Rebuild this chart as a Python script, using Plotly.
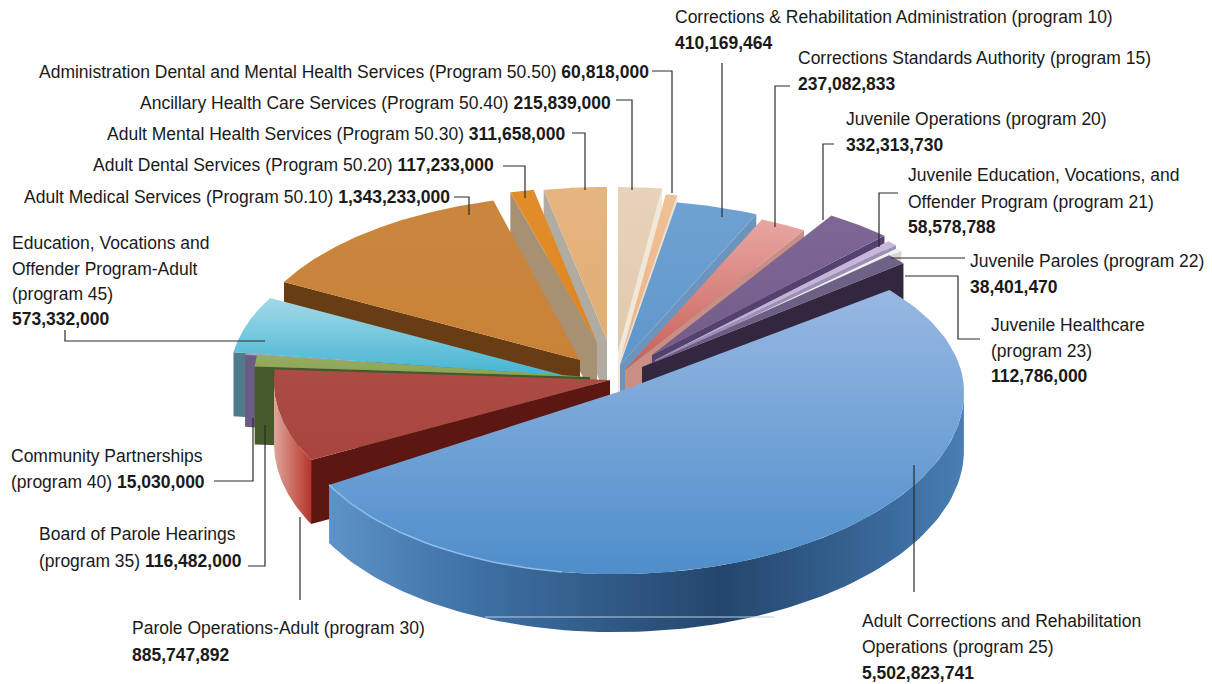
import numpy as np
import plotly.graph_objects as go

# ---------- data ----------
programs = ["50.40", "50.50", "10", "15", "20", "21", "22", "23", "25", "30", "35", "40", "45", "50.10", "50.20", "50.30"]
values = [215839000, 60818000, 410169464, 237082833, 332313730, 58578788, 38401470, 112786000,
          5502823741, 885747892, 116482000, 15030000, 573332000, 1343233000, 117233000, 311658000]

# ---------- styles (top colour, bottom colour) ----------
top_colors = [("#e7d3bb", "#e2c9ab"), ("#efc097", "#ecb589"), ("#6fa2d2", "#5f97cb"), ("#e8a6a3", "#c95f56"),
              ("#7d6794", "#735d8b"), ("#c8b9dc", "#bcaed4"), ("#f2f2f4", "#e6e6ea"), ("#6f6388", "#685a80"),
              ("#98b8e2", "#4e8ecb"), ("#ac4c45", "#a8443d"), ("#97ad62", "#8aa452"), ("#ad9dcb", "#a090c0"),
              ("#a3d9e8", "#45b4d2"), ("#cb863e", "#c98238"), ("#e28d2a", "#dd8524"), ("#e6b47f", "#e2ae76")]
wall_colors = ["#f0e8da", "#e8e0d2", "#6c94bd", "#c98f84", "#54416f", "#9d90b5", "#d5d5d8", "#33263f",
               "#5b8fc5", "#5c1712", "#46592a", "#6b5c85", "#4e7c8c", "#683d14", "#a89072", "#b1aba1"]
centers = [(618, 352), (621, 358), (620, 365), (625, 370), (652, 355), (655, 360), (655, 363), (642, 367),
           (628, 399), (610, 380), (590, 377), (578, 377), (566, 376), (580, 360), (597, 343), (607, 340)]
apex_override = {8: (618, 392)}
tilt = {8: -0.02}
ry_far_override = {14: 156, 15: 153}
height_override = {9: 64, 10: 78, 11: 72, 12: 64}
RX, RY_FAR, RY_NEAR, H = 336, 165, 175, 58
draw_order = [0, 1, 2, 3, 4, 5, 6, 7, 15, 14, 13, 12, 11, 10, 9, 8]
BIG = 8
RED = 9

# ---------- labels ----------
text_lines = [
    ("Corrections & Rehabilitation Administration (program 10)", 675, 17), ("<b>410,169,464</b>", 675, 43),
    ("Corrections Standards Authority (program 15)", 798, 58), ("<b>237,082,833</b>", 798, 84),
    ("Juvenile Operations (program 20)", 846, 119), ("<b>332,313,730</b>", 846, 145),
    ("Juvenile Education, Vocations, and", 908, 175), ("Offender Program (program 21)", 908, 202), ("<b>58,578,788</b>", 908, 227),
    ("Juvenile Paroles (program 22)", 970, 261), ("<b>38,401,470</b>", 970, 287),
    ("Juvenile Healthcare", 991, 325), ("(program 23)", 991, 351), ("<b>112,786,000</b>", 991, 376),
    ("Adult Corrections and Rehabilitation", 862, 621), ("Operations (program 25)", 862, 647), ("<b>5,502,823,741</b>", 862, 673),
    ("Parole Operations-Adult (program 30)", 132, 628), ("<b>885,747,892</b>", 132, 655),
    ("Board of Parole Hearings", 39, 534), ("(program 35) <b>116,482,000</b>", 39, 561),
    ("Community Partnerships", 11, 456), ("(program 40) <b>15,030,000</b>", 11, 482),
    ("Education, Vocations and", 12, 243), ("Offender Program-Adult", 12, 269), ("(program 45)", 12, 294), ("<b>573,332,000</b>", 12, 319),
    ("Adult Medical Services (Program 50.10) <b>1,343,233,000</b>", 24, 197),
    ("Adult Dental Services (Program 50.20) <b>117,233,000</b>", 93, 165),
    ("Adult Mental Health Services (Program 50.30) <b>311,658,000</b>", 107, 134),
    ("Ancillary Health Care Services (Program 50.40) <b>215,839,000</b>", 140, 103),
    ("Administration Dental and Mental Health Services (Program 50.50) <b>60,818,000</b>", 39, 72),
]
leaders = [
    [(652, 71), (672, 71), (672, 193)], [(616, 100), (632, 100), (632, 190)], [(572, 133), (585, 133), (585, 190)],
    [(503, 166), (525, 166), (525, 198)], [(454, 197), (469, 197), (469, 215)], [(65, 330), (65, 341), (265, 341)],
    [(214, 481), (253, 481), (253, 418)], [(248, 566), (265, 566), (265, 425)], [(300, 600), (300, 517)],
    [(914, 465), (914, 592)], [(905, 276), (958, 276), (958, 339), (980, 339)], [(891, 258), (965, 258)],
    [(898, 193), (879, 193), (879, 247)], [(834, 144), (823, 144), (823, 220)], [(790, 86), (775, 86), (775, 227)],
    [(722, 63), (722, 217)],
]

# ---------- geometry from the values ----------
vals = np.array(values, dtype=float)
edges = np.concatenate([[0], np.cumsum(vals)]) / vals.sum() * 2 * np.pi


def rim(i, n=120):
    t = np.linspace(edges[i], edges[i + 1], n)
    u, v = np.sin(t), np.cos(t)
    cx, cy = centers[i]
    x = cx + RX * u
    y = cy - np.where(v > 0, ry_far_override.get(i, RY_FAR), RY_NEAR) * v + tilt.get(i, 0) * (x - cx)
    return x, y, v


def poly(x, y, scale, kind):
    return go.Scatter(x=np.append(x, x[0]), y=np.append(y, y[0]), mode="lines", fill="toself",
                      line=dict(width=0), hoverinfo="skip", showlegend=False,
                      fillgradient=dict(type=kind, colorscale=scale))


fig = go.Figure()
for i in draw_order:
    x, y, v = rim(i)
    ax, ay = apex_override.get(i, centers[i])
    wall = wall_colors[i]
    h = height_override.get(i, H)
    mid = (edges[i] + edges[i + 1]) / 2
    # radial side wall facing the viewer
    if i != BIG:
        k = -1 if mid < np.pi else 0
        fig.add_trace(poly(np.array([ax, x[k], x[k], ax]), np.array([ay, y[k], y[k] + h, ay + h]),
                           [[0, wall], [1, wall]], "vertical"))
    # outer curved wall, on the near half of the rim only
    near = v <= 0
    if near.any():
        xn, yn = x[near], y[near]
        wx = np.concatenate([xn, xn[::-1]])
        wy = np.concatenate([yn, yn[::-1] + h])
        if i == BIG:
            scale = [[0, "#5d93c8"], [0.22, "#3f72a6"], [0.62, "#24466c"], [0.88, "#3a6a9c"], [1, "#4a7fb4"]]
        elif i == RED:
            scale = [[0, "#e0a59c"], [1, "#b6352a"]]
        else:
            scale = [[0, wall], [1, wall]]
        fig.add_trace(poly(wx, wy, scale, "horizontal"))
    # top face: vertical gradients run from the lower edge (0) to the upper edge (1)
    fig.add_trace(poly(np.concatenate([[ax], x]), np.concatenate([[ay], y]),
                       [[0, top_colors[i][1]], [1, top_colors[i][0]]], "vertical"))

# highlight along the front rim of the largest slice
tx, ty, _ = rim(BIG)
mask = (tx < 570) & (ty > 470)
fig.add_trace(go.Scatter(x=tx[mask], y=ty[mask], mode="lines", line=dict(color="#8fbde8", width=1.5),
                         hoverinfo="skip", showlegend=False))

shapes = []
for pts in leaders:
    path = "M " + " L ".join(f"{a},{b}" for a, b in pts)
    shapes.append(dict(type="path", path=path, xref="x", yref="y", line=dict(color="#2b2b2b", width=1.2)))
shapes.append(dict(type="line", x0=485, x1=774, y0=617, y1=617, xref="x", yref="y", line=dict(color="#b8cfe4", width=1)))

annotations = [dict(text=t, x=a - 2, y=b, xref="x", yref="y", xanchor="left", yanchor="middle", showarrow=False,
                    align="left", font=dict(family="Liberation Sans, Arial, sans-serif", size=17.5, color="#1a1a1a"))
               for t, a, b in text_lines]

fig.update_layout(
    width=1212, height=684, margin=dict(l=0, r=0, t=0, b=0), autosize=False,
    paper_bgcolor="#fefefe", plot_bgcolor="#fefefe", showlegend=False,
    xaxis=dict(range=[0, 1212], visible=False, fixedrange=True),
    yaxis=dict(range=[684, 0], visible=False, fixedrange=True),
    shapes=shapes, annotations=annotations,
)
fig.write_html("out.html", config=dict(displayModeBar=False),
               post_script="document.body.style.margin='0';document.documentElement.style.background='#fefefe';")
